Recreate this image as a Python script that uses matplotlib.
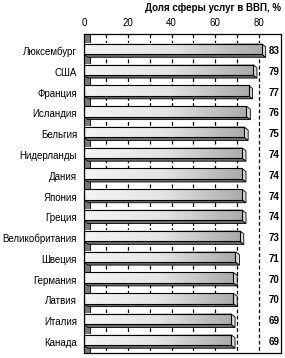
import numpy as np
import matplotlib.pyplot as plt
from matplotlib.colors import LinearSegmentedColormap
from matplotlib.patches import Polygon, Rectangle

plt.rcParams['font.family'] = ['Liberation Sans', 'DejaVu Sans']

# data
countries = ['Люксембург', 'США', 'Франция', 'Исландия', 'Бельгия',
             'Нидерланды', 'Дания', 'Япония', 'Греция', 'Великобритания',
             'Швеция', 'Германия', 'Латвия', 'Италия', 'Канада']
values = [83, 79, 77, 76, 75, 74, 74, 74, 74, 73, 71, 70, 70, 69, 69]
ticks = [0, 20, 40, 60, 80]
title = 'Доля сферы услуг в ВВП, %'

fig = plt.figure(figsize=(2.85, 3.58), dpi=100)
ax = fig.add_axes([84 / 285, 1 - 353 / 358, 197 / 285, 319 / 358])

x_max = 90
y_top, y_bot = -0.82, len(countries) - 0.47
dx = 1.8      # depth of the 3d effect in x units
dy = 0.15     # depth in y units
face_top, face_bot = -0.35, 0.15

# left wall of the 3d chart
ax.add_patch(Rectangle((0, y_top), 2.7, y_bot - y_top, facecolor='#7a7a7a',
                       edgecolor='black', lw=0.6, zorder=1))

# dashed grid
for g in range(10, 90, 10):
    ax.plot([g, g], [y_top, y_bot], color='black', lw=0.9,
            dashes=(3, 2), zorder=1.5)

bar_cmap = LinearSegmentedColormap.from_list('bar', ['#f4f4f4', '#e4e4e4', '#ababab'])
grad = np.linspace(0, 1, 64).reshape(1, -1)
for i, v in enumerate(values):
    front = v - dx
    # bottom face
    ax.add_patch(Polygon([(0, i + face_bot), (front, i + face_bot),
                          (v, i + face_bot + dy), (dx, i + face_bot + dy)],
                         closed=True, facecolor='#6e6e6e', edgecolor='black',
                         lw=0.6, zorder=2))
    # right cap
    ax.add_patch(Polygon([(front, i + face_top), (v, i + face_top + dy),
                          (v, i + face_bot + dy), (front, i + face_bot)],
                         closed=True, facecolor='#d8d8d8', edgecolor='black',
                         lw=0.6, zorder=2))
    # front face with gradient
    ax.imshow(grad, cmap=bar_cmap, aspect='auto',
              extent=[0, front, i + face_bot, i + face_top], zorder=3,
              interpolation='bilinear')
    ax.add_patch(Rectangle((0, i + face_top), front, face_bot - face_top,
                           facecolor='none', edgecolor='black', lw=0.8,
                           zorder=4))
    ax.text(89.3, i, str(v), ha='right', va='center', fontsize=7,
            fontweight='bold')

ax.set_xlim(0, x_max)
ax.set_ylim(y_bot, y_top)
ax.set_yticks(range(len(countries)))
ax.set_yticklabels(countries, fontsize=7)
ax.set_xticks(ticks)
ax.xaxis.tick_top()
ax.tick_params(axis='x', length=0, labelsize=7, pad=4)
ax.tick_params(axis='y', length=0, pad=5)
for s in ax.spines.values():
    s.set_linewidth(0.9)
    s.set_zorder(5)

fig.text(281 / 285, 1 - 8 / 358, title, ha='right', va='center',
         fontsize=7, fontweight='bold')

fig.savefig('out.png', dpi=100)
